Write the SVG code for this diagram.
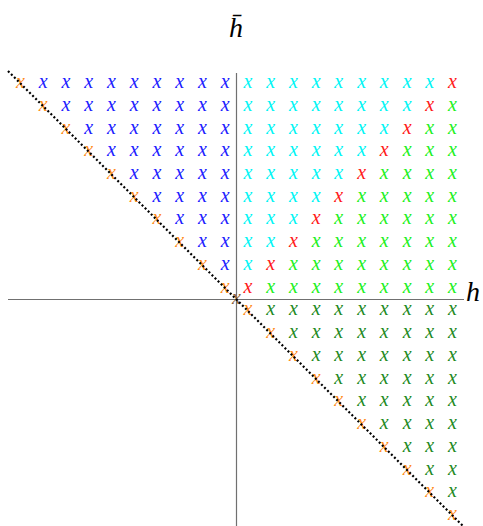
<svg xmlns="http://www.w3.org/2000/svg" width="483" height="526" viewBox="0 0 483 526">
<style>
text.m{font-family:"Liberation Serif","DejaVu Serif",serif;font-style:italic;font-size:20px;text-anchor:middle}
.o{fill:#ff8c1a}.b{fill:#2020ff}.c{fill:#00f5f5}.r{fill:#ff1a1a}.g{fill:#22f022}.d{fill:#1f8a1f}.og{fill:#8c6238}
.lab{font-family:"Liberation Serif","DejaVu Serif",serif;font-style:italic;font-size:28px;fill:#000}
.ax{stroke:#707070;stroke-width:1.2;fill:none}
</style>
<rect width="483" height="526" fill="#fff"/>
<g id="axes">
<line class="ax" x1="8" y1="299.5" x2="464" y2="299.5"/>
<line class="ax" x1="236.5" y1="73" x2="236.5" y2="526"/>
</g>
<g id="diagonal-orange">
<text class="m o" x="20.5" y="88.0">x</text>
<text class="m o" x="43.2" y="110.7">x</text>
<text class="m o" x="66.0" y="133.5">x</text>
<text class="m o" x="88.7" y="156.2">x</text>
<text class="m o" x="111.4" y="178.9">x</text>
<text class="m o" x="134.2" y="201.7">x</text>
<text class="m o" x="156.9" y="224.4">x</text>
<text class="m o" x="179.7" y="247.2">x</text>
<text class="m o" x="202.4" y="269.9">x</text>
<text class="m o" x="225.1" y="292.6">x</text>
<text class="m og" x="236.5" y="304">x</text>
<text class="m o" x="247.9" y="315.4">x</text>
<text class="m o" x="270.6" y="338.1">x</text>
<text class="m o" x="293.4" y="360.9">x</text>
<text class="m o" x="316.1" y="383.6">x</text>
<text class="m o" x="338.8" y="406.3">x</text>
<text class="m o" x="361.6" y="429.1">x</text>
<text class="m o" x="384.3" y="451.8">x</text>
<text class="m o" x="407.1" y="474.6">x</text>
<text class="m o" x="429.8" y="497.3">x</text>
<text class="m o" x="452.5" y="520.0">x</text>
</g>
<g id="blue">
<text class="m b" x="43.2" y="88.0">x</text><text class="m b" x="66.0" y="88.0">x</text><text class="m b" x="88.7" y="88.0">x</text><text class="m b" x="111.4" y="88.0">x</text><text class="m b" x="134.2" y="88.0">x</text><text class="m b" x="156.9" y="88.0">x</text><text class="m b" x="179.7" y="88.0">x</text><text class="m b" x="202.4" y="88.0">x</text><text class="m b" x="225.1" y="88.0">x</text>
<text class="m b" x="66.0" y="110.7">x</text><text class="m b" x="88.7" y="110.7">x</text><text class="m b" x="111.4" y="110.7">x</text><text class="m b" x="134.2" y="110.7">x</text><text class="m b" x="156.9" y="110.7">x</text><text class="m b" x="179.7" y="110.7">x</text><text class="m b" x="202.4" y="110.7">x</text><text class="m b" x="225.1" y="110.7">x</text>
<text class="m b" x="88.7" y="133.5">x</text><text class="m b" x="111.4" y="133.5">x</text><text class="m b" x="134.2" y="133.5">x</text><text class="m b" x="156.9" y="133.5">x</text><text class="m b" x="179.7" y="133.5">x</text><text class="m b" x="202.4" y="133.5">x</text><text class="m b" x="225.1" y="133.5">x</text>
<text class="m b" x="111.4" y="156.2">x</text><text class="m b" x="134.2" y="156.2">x</text><text class="m b" x="156.9" y="156.2">x</text><text class="m b" x="179.7" y="156.2">x</text><text class="m b" x="202.4" y="156.2">x</text><text class="m b" x="225.1" y="156.2">x</text>
<text class="m b" x="134.2" y="178.9">x</text><text class="m b" x="156.9" y="178.9">x</text><text class="m b" x="179.7" y="178.9">x</text><text class="m b" x="202.4" y="178.9">x</text><text class="m b" x="225.1" y="178.9">x</text>
<text class="m b" x="156.9" y="201.7">x</text><text class="m b" x="179.7" y="201.7">x</text><text class="m b" x="202.4" y="201.7">x</text><text class="m b" x="225.1" y="201.7">x</text>
<text class="m b" x="179.7" y="224.4">x</text><text class="m b" x="202.4" y="224.4">x</text><text class="m b" x="225.1" y="224.4">x</text>
<text class="m b" x="202.4" y="247.2">x</text><text class="m b" x="225.1" y="247.2">x</text>
<text class="m b" x="225.1" y="269.9">x</text>
</g>
<g id="cyan">
<text class="m c" x="247.9" y="88.0">x</text><text class="m c" x="270.6" y="88.0">x</text><text class="m c" x="293.4" y="88.0">x</text><text class="m c" x="316.1" y="88.0">x</text><text class="m c" x="338.8" y="88.0">x</text><text class="m c" x="361.6" y="88.0">x</text><text class="m c" x="384.3" y="88.0">x</text><text class="m c" x="407.1" y="88.0">x</text><text class="m c" x="429.8" y="88.0">x</text>
<text class="m c" x="247.9" y="110.7">x</text><text class="m c" x="270.6" y="110.7">x</text><text class="m c" x="293.4" y="110.7">x</text><text class="m c" x="316.1" y="110.7">x</text><text class="m c" x="338.8" y="110.7">x</text><text class="m c" x="361.6" y="110.7">x</text><text class="m c" x="384.3" y="110.7">x</text><text class="m c" x="407.1" y="110.7">x</text>
<text class="m c" x="247.9" y="133.5">x</text><text class="m c" x="270.6" y="133.5">x</text><text class="m c" x="293.4" y="133.5">x</text><text class="m c" x="316.1" y="133.5">x</text><text class="m c" x="338.8" y="133.5">x</text><text class="m c" x="361.6" y="133.5">x</text><text class="m c" x="384.3" y="133.5">x</text>
<text class="m c" x="247.9" y="156.2">x</text><text class="m c" x="270.6" y="156.2">x</text><text class="m c" x="293.4" y="156.2">x</text><text class="m c" x="316.1" y="156.2">x</text><text class="m c" x="338.8" y="156.2">x</text><text class="m c" x="361.6" y="156.2">x</text>
<text class="m c" x="247.9" y="178.9">x</text><text class="m c" x="270.6" y="178.9">x</text><text class="m c" x="293.4" y="178.9">x</text><text class="m c" x="316.1" y="178.9">x</text><text class="m c" x="338.8" y="178.9">x</text>
<text class="m c" x="247.9" y="201.7">x</text><text class="m c" x="270.6" y="201.7">x</text><text class="m c" x="293.4" y="201.7">x</text><text class="m c" x="316.1" y="201.7">x</text>
<text class="m c" x="247.9" y="224.4">x</text><text class="m c" x="270.6" y="224.4">x</text><text class="m c" x="293.4" y="224.4">x</text>
<text class="m c" x="247.9" y="247.2">x</text><text class="m c" x="270.6" y="247.2">x</text>
<text class="m c" x="247.9" y="269.9">x</text>
</g>
<g id="red">
<text class="m r" x="452.5" y="88.0">x</text>
<text class="m r" x="429.8" y="110.7">x</text>
<text class="m r" x="407.1" y="133.5">x</text>
<text class="m r" x="384.3" y="156.2">x</text>
<text class="m r" x="361.6" y="178.9">x</text>
<text class="m r" x="338.8" y="201.7">x</text>
<text class="m r" x="316.1" y="224.4">x</text>
<text class="m r" x="293.4" y="247.2">x</text>
<text class="m r" x="270.6" y="269.9">x</text>
<text class="m r" x="247.9" y="292.6">x</text>
</g>
<g id="green">
<text class="m g" x="452.5" y="110.7">x</text>
<text class="m g" x="429.8" y="133.5">x</text><text class="m g" x="452.5" y="133.5">x</text>
<text class="m g" x="407.1" y="156.2">x</text><text class="m g" x="429.8" y="156.2">x</text><text class="m g" x="452.5" y="156.2">x</text>
<text class="m g" x="384.3" y="178.9">x</text><text class="m g" x="407.1" y="178.9">x</text><text class="m g" x="429.8" y="178.9">x</text><text class="m g" x="452.5" y="178.9">x</text>
<text class="m g" x="361.6" y="201.7">x</text><text class="m g" x="384.3" y="201.7">x</text><text class="m g" x="407.1" y="201.7">x</text><text class="m g" x="429.8" y="201.7">x</text><text class="m g" x="452.5" y="201.7">x</text>
<text class="m g" x="338.8" y="224.4">x</text><text class="m g" x="361.6" y="224.4">x</text><text class="m g" x="384.3" y="224.4">x</text><text class="m g" x="407.1" y="224.4">x</text><text class="m g" x="429.8" y="224.4">x</text><text class="m g" x="452.5" y="224.4">x</text>
<text class="m g" x="316.1" y="247.2">x</text><text class="m g" x="338.8" y="247.2">x</text><text class="m g" x="361.6" y="247.2">x</text><text class="m g" x="384.3" y="247.2">x</text><text class="m g" x="407.1" y="247.2">x</text><text class="m g" x="429.8" y="247.2">x</text><text class="m g" x="452.5" y="247.2">x</text>
<text class="m g" x="293.4" y="269.9">x</text><text class="m g" x="316.1" y="269.9">x</text><text class="m g" x="338.8" y="269.9">x</text><text class="m g" x="361.6" y="269.9">x</text><text class="m g" x="384.3" y="269.9">x</text><text class="m g" x="407.1" y="269.9">x</text><text class="m g" x="429.8" y="269.9">x</text><text class="m g" x="452.5" y="269.9">x</text>
<text class="m g" x="270.6" y="292.6">x</text><text class="m g" x="293.4" y="292.6">x</text><text class="m g" x="316.1" y="292.6">x</text><text class="m g" x="338.8" y="292.6">x</text><text class="m g" x="361.6" y="292.6">x</text><text class="m g" x="384.3" y="292.6">x</text><text class="m g" x="407.1" y="292.6">x</text><text class="m g" x="429.8" y="292.6">x</text><text class="m g" x="452.5" y="292.6">x</text>
</g>
<g id="darkgreen">
<text class="m d" x="270.6" y="315.4">x</text><text class="m d" x="293.4" y="315.4">x</text><text class="m d" x="316.1" y="315.4">x</text><text class="m d" x="338.8" y="315.4">x</text><text class="m d" x="361.6" y="315.4">x</text><text class="m d" x="384.3" y="315.4">x</text><text class="m d" x="407.1" y="315.4">x</text><text class="m d" x="429.8" y="315.4">x</text><text class="m d" x="452.5" y="315.4">x</text>
<text class="m d" x="293.4" y="338.1">x</text><text class="m d" x="316.1" y="338.1">x</text><text class="m d" x="338.8" y="338.1">x</text><text class="m d" x="361.6" y="338.1">x</text><text class="m d" x="384.3" y="338.1">x</text><text class="m d" x="407.1" y="338.1">x</text><text class="m d" x="429.8" y="338.1">x</text><text class="m d" x="452.5" y="338.1">x</text>
<text class="m d" x="316.1" y="360.9">x</text><text class="m d" x="338.8" y="360.9">x</text><text class="m d" x="361.6" y="360.9">x</text><text class="m d" x="384.3" y="360.9">x</text><text class="m d" x="407.1" y="360.9">x</text><text class="m d" x="429.8" y="360.9">x</text><text class="m d" x="452.5" y="360.9">x</text>
<text class="m d" x="338.8" y="383.6">x</text><text class="m d" x="361.6" y="383.6">x</text><text class="m d" x="384.3" y="383.6">x</text><text class="m d" x="407.1" y="383.6">x</text><text class="m d" x="429.8" y="383.6">x</text><text class="m d" x="452.5" y="383.6">x</text>
<text class="m d" x="361.6" y="406.3">x</text><text class="m d" x="384.3" y="406.3">x</text><text class="m d" x="407.1" y="406.3">x</text><text class="m d" x="429.8" y="406.3">x</text><text class="m d" x="452.5" y="406.3">x</text>
<text class="m d" x="384.3" y="429.1">x</text><text class="m d" x="407.1" y="429.1">x</text><text class="m d" x="429.8" y="429.1">x</text><text class="m d" x="452.5" y="429.1">x</text>
<text class="m d" x="407.1" y="451.8">x</text><text class="m d" x="429.8" y="451.8">x</text><text class="m d" x="452.5" y="451.8">x</text>
<text class="m d" x="429.8" y="474.6">x</text><text class="m d" x="452.5" y="474.6">x</text>
<text class="m d" x="452.5" y="497.3">x</text>
</g>
<g id="connectors">
<line x1="8" y1="71" x2="463" y2="526" stroke="#000" stroke-width="2.2" stroke-dasharray="2 2.3"/>
</g>
<g id="labels">
<text class="lab" x="236" y="37" text-anchor="middle">h̄</text>
<text class="lab" x="466" y="301">h</text>
</g>
</svg>
